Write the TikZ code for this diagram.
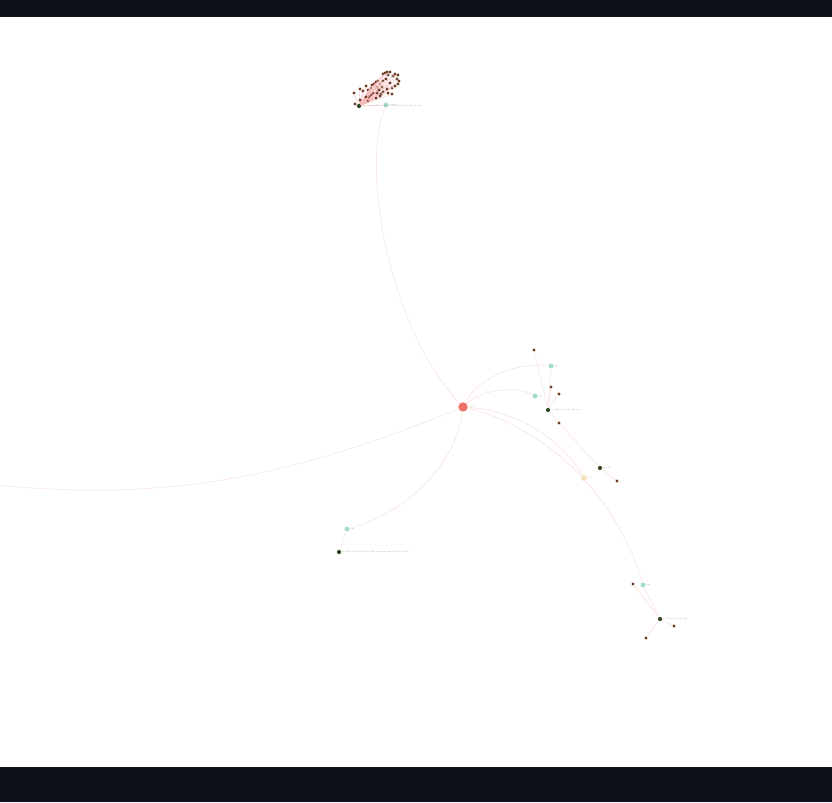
\documentclass[tikz,border=0pt]{standalone}
\usepackage{xcolor}
\usepackage{tikz}
\usetikzlibrary{positioning,calc}

\definecolor{bandnavy}{HTML}{0E111A}
\definecolor{hubred}{HTML}{F07167}
\definecolor{pkgteal}{HTML}{A3DCC8}
\definecolor{modgreen}{HTML}{2F4A22}
\definecolor{fnbrown}{HTML}{6E3B22}
\definecolor{cfgsand}{HTML}{F3E5BC}
\definecolor{linkpink}{HTML}{F9DCDC}
\definecolor{fanpink}{HTML}{F7B9BC}

\begin{document}
\begin{tikzpicture}[x=0.3mm, y=-0.3mm,
  hub/.style={circle, fill=hubred, inner sep=0, minimum size=8pt},
  pkg/.style={circle, fill=pkgteal, inner sep=0, minimum size=4.2pt},
  mod/.style={circle, fill=modgreen, inner sep=0, minimum size=3.6pt},
  fn/.style={circle, fill=fnbrown, inner sep=0, minimum size=2.8pt},
  cfg/.style={circle, fill=cfgsand, inner sep=0, minimum size=5.2pt},
  tag/.style={font=\fontsize{1.5}{1.7}\selectfont, text=gray!85, inner sep=0.6pt, anchor=west},
  link/.style={draw=linkpink, line width=0.4pt},
  fan/.style={draw=fanpink, line width=0.3pt}]

% canvas and bands
\useasboundingbox (0,0) rectangle (832,802);
\fill[white] (0,0) rectangle (832,802);
\fill[bandnavy] (0,0) rectangle (832,17);
\fill[bandnavy] (0,767) rectangle (832,802);

% nodes
\node[hub] (core) at (463,407) {};
\node[pkg] (pkgtop) at (386,105) {};
\node[mod] (modtop) at (359,106) {};
\node[pkg] (pkgne) at (551,366) {};
\node[pkg] (pkgmid) at (535,396) {};
\node[mod] (modmid) at (548,410) {};
\node[mod] (modeast) at (600,468) {};
\node[cfg] (cfgeast) at (584,478) {};
\node[pkg] (pkgsw) at (347,529) {};
\node[mod] (modsw) at (339,552) {};
\node[pkg] (pkgse) at (643,585) {};
\node[mod] (modse) at (660,619) {};
\node[fn] (fna) at (534,350) {};
\node[fn] (fnb) at (551,387) {};
\node[fn] (fnc) at (559,394) {};
\node[fn] (fnd) at (559,423) {};
\node[fn] (fne) at (617,481) {};
\node[fn] (fnf) at (633,584) {};
\node[fn] (fng) at (674,626) {};
\node[fn] (fnh) at (646,638) {};
\coordinate (westend) at (-40,481);

% labels
\node[tag] at (core.east) {core};
\node[tag] at (pkgtop.east) {package};
\node[tag, xshift=1pt] at (modtop.east) {module module module module module module module};
\node[tag] at (pkgne.east) {pkg};
\node[tag] at (pkgmid.east) {pkg};
\node[tag] at (modmid.east) {module module module mod};
\node[tag] at (modeast.east) {module};
\node[tag] at (cfgeast.east) {cf};
\node[tag] at (pkgsw.east) {pkg};
\node[tag] at (modsw.east) {module module module module module module module module};
\node[tag] at (pkgse.east) {pkg};
\node[tag] at (modse.east) {module module module};

% top cluster fan
\foreach \px/\py [count=\i] in {354/93,360/89,363/91,366/86,368/90,371/88,372/85,374/84,376/82,377/87,
  378/81,380/84,382/87,383/74,385/73,387/72,388/75,390/72,393/76,395/74,398/75,397/79,399/81,398/84,
  390/83,392/88,387/89,388/93,392/94,383/92,381/94,380/96,377/93,373/93,371/95,369/97,366/97,368/101,
  360/100,355/104,383/81,379/90,376/98,386/79,395/86}{
  \node[fn] (dot\i) at (\px,\py) {};
  \draw[fan] (modtop) -- (dot\i);
}
\draw[fan] (modtop) -- (pkgtop);

% hub links
\draw[link] (core) .. controls (390,330) and (360,170) .. (pkgtop);
\draw[link] (core) .. controls (280,482) and (150,505) .. (westend);
\draw[link] (core) .. controls (478,378) and (515,362) .. (pkgne);
\draw[link] (core) .. controls (478,392) and (512,384) .. (pkgmid);
\draw[link] (core) .. controls (525,412) and (565,445) .. (cfgeast);
\draw[link] (core) .. controls (555,430) and (620,505) .. (pkgse);
\draw[link] (core) .. controls (455,470) and (400,515) .. (pkgsw);

% local links
\draw[link] (pkgne) -- (modmid);
\draw[link] (fna) -- (modmid);
\draw[link] (fnb) -- (modmid);
\draw[link] (fnc) -- (modmid);
\draw[link] (modmid) -- (fnd) -- (modeast) -- (fne);
\draw[link] (pkgsw) -- (modsw);
\draw[link] (pkgse) -- (modse);
\draw[link] (fnf) -- (modse);
\draw[link] (modse) -- (fng);
\draw[link] (modse) -- (fnh);
\end{tikzpicture}
\end{document}
